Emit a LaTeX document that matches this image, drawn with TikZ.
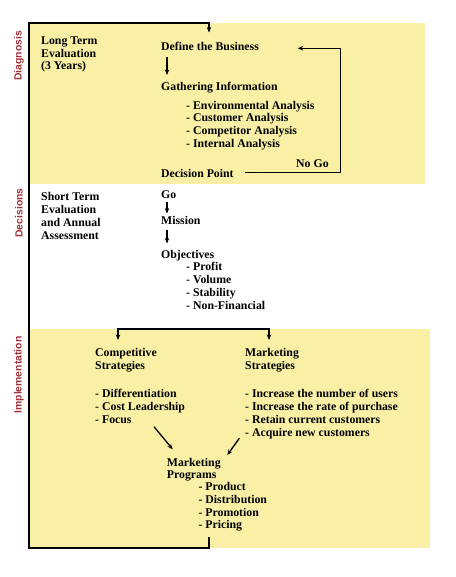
\documentclass[tikz,border=0pt]{standalone}
\usepackage{fontspec}
\setmainfont{Liberation Serif}
\newfontfamily\labelfont{Liberation Sans}
\usetikzlibrary{arrows.meta}
\definecolor{bandyellow}{HTML}{F9F0A6}
\definecolor{seclabel}{HTML}{A3323A}
\begin{document}
\begin{tikzpicture}[x=1pt,y=-1pt,
  txt/.style={font=\bfseries\fontsize{11.8}{13}\selectfont, anchor=base west, inner sep=0pt},
  sec/.style={font=\labelfont\bfseries\fontsize{10.4}{12}\selectfont, text=seclabel, rotate=90, inner sep=0pt},
  conn/.style={line width=1.3pt, -{Stealth[length=5.5pt,width=4.5pt]}},
  plain/.style={line width=1.3pt}]
\useasboundingbox (0,0) rectangle (455,577);
\fill[white] (0,0) rectangle (455,577);
\fill[bandyellow] (29,23) rectangle (425,184);
\fill[bandyellow] (29,329) rectangle (430,548);

% section labels
\node[sec] (diag) at (19,56) {Diagnosis};
\node[sec] (decis) at (19,213) {Decisions};
\node[sec] (impl) at (19,375) {Implementation};

% Diagnosis
\node[txt] (lt1) at (41,45) {Long Term};
\node[txt] (lt2) at (41,57.5) {Evaluation};
\node[txt] (lt3) at (41,70) {(3 Years)};
\node[txt] (def) at (161,50.7) {Define the Business};
\node[txt] (gath) at (161,90.7) {Gathering Information};
\node[txt] (env) at (186,109.3) {- Environmental Analysis};
\node[txt] (cus) at (186,122) {- Customer Analysis};
\node[txt] (comp) at (186,134.7) {- Competitor Analysis};
\node[txt] (int) at (186,147.7) {- Internal Analysis};
\node[txt] (nogo) at (296,168) {No Go};
\node[txt] (dec) at (161,177.7) {Decision Point};

% Decisions
\node[txt] (st1) at (41,200.7) {Short Term};
\node[txt] (st2) at (41,213.3) {Evaluation};
\node[txt] (st3) at (41,226.3) {and Annual};
\node[txt] (st4) at (41,239.3) {Assessment};
\node[txt] (go) at (161,198.3) {Go};
\node[txt] (mis) at (161,224) {Mission};
\node[txt] (obj) at (161,258.3) {Objectives};
\node[txt] (prof) at (186,270.7) {- Profit};
\node[txt] (vol) at (186,283.3) {- Volume};
\node[txt] (stab) at (186,296.3) {- Stability};
\node[txt] (nonf) at (186,309.3) {- Non-Financial};

% Implementation
\node[txt] (cs1) at (95,356.7) {Competitive};
\node[txt] (cs2) at (95,369.3) {Strategies};
\node[txt] (diff) at (95,397.3) {- Differentiation};
\node[txt] (cost) at (95,410.7) {- Cost Leadership};
\node[txt] (focus) at (95,423.3) {- Focus};
\node[txt] (ms1) at (245,356.7) {Marketing};
\node[txt] (ms2) at (245,369.3) {Strategies};
\node[txt] (users) at (245,397.3) {- Increase the number of users};
\node[txt] (rate) at (245,410.7) {- Increase the rate of purchase};
\node[txt] (retain) at (245,423.3) {- Retain current customers};
\node[txt] (acq) at (245,436.7) {- Acquire new customers};
\node[txt] (mp1) at (166.7,466) {Marketing};
\node[txt] (mp2) at (166.7,478.3) {Programs};
\node[txt] (prod) at (198.3,490) {- Product};
\node[txt] (dist) at (198.3,503) {- Distribution};
\node[txt] (promo) at (198.3,516) {- Promotion};
\node[txt] (pric) at (198.3,528.7) {- Pricing};

% connector end points
\coordinate (loopS) at (209,537);
\coordinate (loopE) at (209,32.5);
\coordinate (defB) at (167,57);
\coordinate (gathT) at (167,75);
\coordinate (decR) at (245,172.7);
\coordinate (defR) at (297.7,48.3);
\coordinate (goB) at (167,202);
\coordinate (misT) at (167,213.5);
\coordinate (misB) at (167,230);
\coordinate (objT) at (167,243.5);
\coordinate (splitL) at (118,340);
\coordinate (splitR) at (269,340);
\coordinate (csB) at (154,426.7);
\coordinate (mpL) at (172.7,449.3);
\coordinate (msB) at (239.3,438.3);
\coordinate (mpR) at (227.3,455);

% connectors
\draw[conn] (loopS) -- (209,548) -- (29,548) -- (29,23) -- (209,23) -- (loopE);
\draw[conn] (defB) -- (gathT);
\draw[conn] (decR) -- (340.7,172.7) -- (340.7,48.3) -- (defR);
\draw[conn] (goB) -- (misT);
\draw[conn] (misB) -- (objT);
\draw[line width=1.3pt, {Stealth[length=5.5pt,width=4.5pt]}-{Stealth[length=5.5pt,width=4.5pt]}] (splitL) -- (118,329) -- (269,329) -- (splitR);
\draw[conn] (csB) -- (mpL);
\draw[conn] (msB) -- (mpR);
\end{tikzpicture}
\end{document}
